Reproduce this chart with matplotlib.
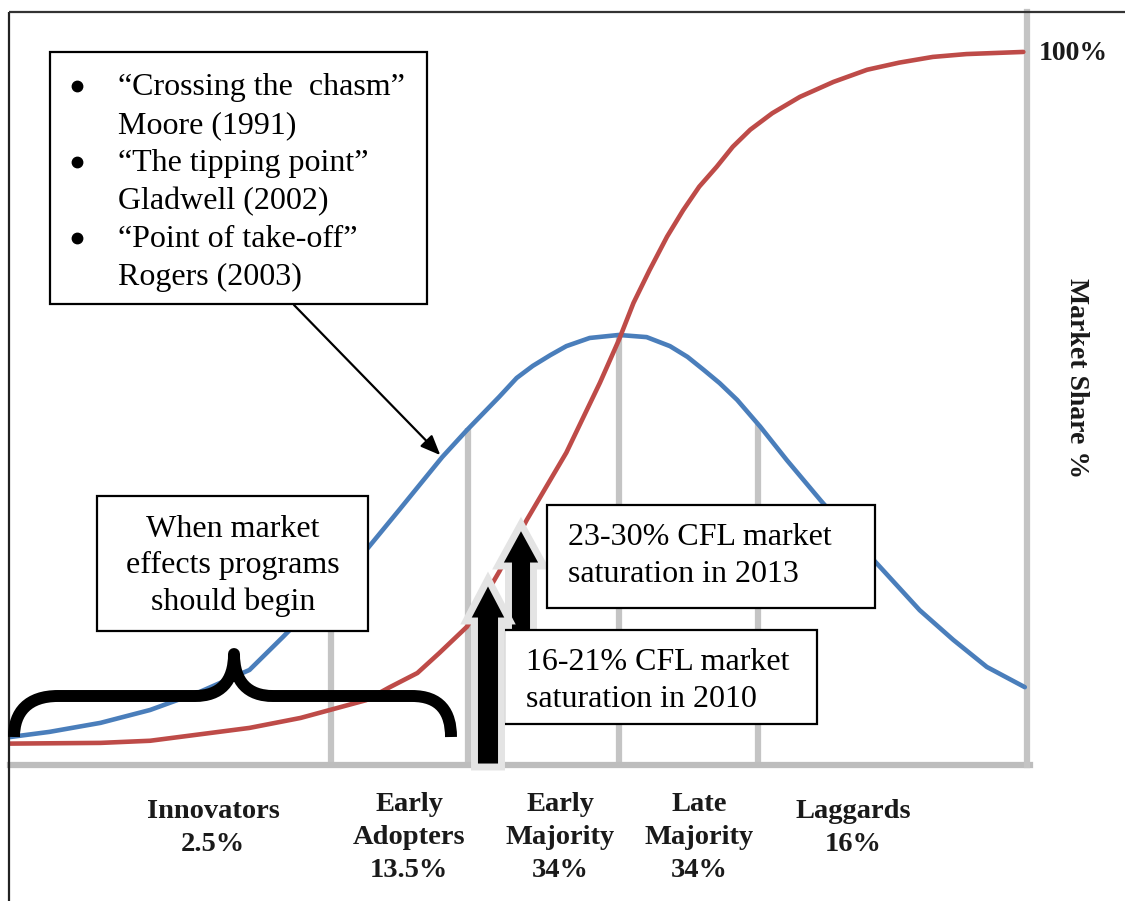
import matplotlib
matplotlib.use('Agg')
import matplotlib.pyplot as plt
from matplotlib.patches import Polygon, Rectangle, PathPatch
from matplotlib.path import Path
import numpy as np


# Curves. x is in standard deviations from the mean
# (peak of the bell curve).
blue_x = [-4.17, -3.90, -3.55, -3.21, -2.87, -2.53, -2.30, -1.97, -1.73, -1.50,
          -1.21, -1.04, -0.82, -0.70, -0.59, -0.47, -0.36, -0.20, 0.0, 0.19,
          0.35, 0.47, 0.58, 0.69, 0.81, 0.97, 1.15, 1.38, 1.60, 1.79,
          2.06, 2.29, 2.52, 2.78]
# adoption rate, relative to the peak
blue_y = [0.065, 0.077, 0.098, 0.128, 0.170, 0.221, 0.298, 0.412, 0.500, 0.595,
          0.716, 0.779, 0.856, 0.900, 0.928, 0.953, 0.974, 0.993, 1.0, 0.995,
          0.974, 0.949, 0.919, 0.888, 0.849, 0.786, 0.709, 0.616, 0.530, 0.460,
          0.360, 0.291, 0.228, 0.181]

red_x = [-4.17, -3.55, -3.21, -2.87, -2.53, -2.18, -1.73, -1.57, -1.38, -1.23,
         -1.04, -0.82, -0.63, -0.36, -0.13, 0.0, 0.10, 0.21, 0.33, 0.44,
         0.55, 0.67, 0.78, 0.90, 1.05, 1.24, 1.47, 1.70, 1.92, 2.15,
         2.38, 2.77]
# cumulative market share %
red_y = [3.0, 3.1, 3.4, 4.3, 5.2, 6.6, 9.1, 10.9, 12.9, 15.7,
         19.4, 27.1, 34.4, 43.8, 53.6, 59.6, 64.8, 69.4, 74.1, 77.8,
         81.1, 83.9, 86.7, 89.1, 91.4, 93.7, 95.8, 97.5, 98.5, 99.3,
         99.7, 100.0]

# segment boundaries (grey dividers), standard deviations
divider_x = [-1.97, -1.03, 0.0, 0.95]

segment_names = ['Innovators', 'Early\nAdopters', 'Early\nMajority', 'Late\nMajority', 'Laggards']
segment_shares = [2.5, 13.5, 34, 34, 16]

theories = ['\u201cCrossing the  chasm\u201d', 'Moore (1991)',
            '\u201cThe tipping point\u201d', 'Gladwell (2002)',
            '\u201cPoint of take-off\u201d', 'Rogers (2003)']

BLUE = '#4a7ebb'
RED = '#be4b48'
GREY = '#c4c4c4'
SERIF = 'Liberation Serif'


def text_lines(ax, x, y0, lines, step, **kw):
    """Put each line separately so the baselines land where they should."""
    for i, line in enumerate(lines):
        ax.text(x, y0 + i * step, line, va='baseline', **kw)


def box(ax, x0, y0, x1, y1):
    ax.add_patch(Rectangle((x0, y0), x1 - x0, y1 - y0, facecolor='white',
                           edgecolor='black', lw=1.6, zorder=5))


def block_arrow(ax, cx, tip, base, bottom, shaft_hw, head_hw, z):
    pts = [(cx - shaft_hw, bottom), (cx - shaft_hw, base), (cx - head_hw, base),
           (cx, tip), (cx + head_hw, base), (cx + shaft_hw, base),
           (cx + shaft_hw, bottom)]
    ax.add_patch(Polygon(pts, closed=True, facecolor='black',
                         edgecolor='#e4e4e4', lw=5, joinstyle='miter', zorder=z))


fig = plt.figure(figsize=(11.25, 9.01), dpi=100)

# chart area: x from 10px to 1027px, y from 765px (bottom) to 12px (top)
ax = fig.add_axes([10 / 1125, 1 - 765 / 901, 1017 / 1125, 753 / 901])
ax.set_xlim(-4.17, 2.795)
ax.set_ylim(0, 1.751)
ax.set_axis_off()
ax.set_zorder(1)

tops = np.interp(divider_x, blue_x, blue_y)
ax.vlines(divider_x, 0, tops, color=GREY, lw=4.5, zorder=1)
ax.axhline(0, xmin=0, xmax=1.003, color='#bdbdbd', lw=4.5, clip_on=False, zorder=1)
ax.axvline(2.795, color=GREY, lw=4.5, clip_on=False, zorder=1)
ax.plot(blue_x, blue_y, color=BLUE, lw=3.3, solid_capstyle='round',
        solid_joinstyle='round', zorder=3)

ax2 = ax.twinx()
ax2.set_ylim(0, 105.6)
ax2.set_axis_off()
ax2.set_zorder(2)
ax2.plot(red_x, red_y, color=RED, lw=3.3, solid_capstyle='round',
         solid_joinstyle='round', zorder=3)

# overlay in pixel units for frame, boxes, arrows and labels
ov = fig.add_axes([0, 0, 1, 1])
ov.set_xlim(0, 1125)
ov.set_ylim(901, 0)
ov.set_axis_off()
ov.set_zorder(3)
ov.patch.set_visible(False)

ov.plot([9, 9], [901, 12], color='#222222', lw=1.6, solid_capstyle='butt')
ov.plot([9, 1125], [12, 12], color='#333333', lw=1.6, solid_capstyle='butt')

# theory box with pointer to the tipping point on the bell curve
box(ov, 50, 52, 427, 304)
text_lines(ov, 118, 95, theories, 38, fontsize=23, family=SERIF, zorder=6)
for i in (0, 2, 4):
    ov.plot(77, 86 + i * 38, 'o', color='black', ms=7.5, zorder=6)
tip_x = -1.21
ov.annotate('', xy=(tip_x, np.interp(tip_x, blue_x, blue_y)), xycoords=ax.transData,
            xytext=(294, 305), textcoords='data',
            arrowprops=dict(arrowstyle='-|>,head_length=0.6,head_width=0.25',
                            color='black', lw=1.6, mutation_scale=20,
                            shrinkA=0, shrinkB=2))

# brace under the early part of the curves
verts = [(14, 737), (14, 712), (28, 696), (58, 696), (195, 696),
         (220, 696), (234, 682), (234, 654),
         (234, 682), (248, 696), (273, 696), (412, 696),
         (440, 696), (451, 712), (451, 737)]
codes = [Path.MOVETO, Path.CURVE4, Path.CURVE4, Path.CURVE4, Path.LINETO,
         Path.CURVE4, Path.CURVE4, Path.CURVE4,
         Path.CURVE4, Path.CURVE4, Path.CURVE4, Path.LINETO,
         Path.CURVE4, Path.CURVE4, Path.CURVE4]
ov.add_patch(PathPatch(Path(verts, codes), fill=False, lw=8.6, edgecolor='black',
                       capstyle='butt', joinstyle='round', zorder=4))

box(ov, 97, 496, 368, 631)
text_lines(ov, 233, 537, ['When market', 'effects programs', 'should begin'], 36.5,
           fontsize=23, family=SERIF, ha='center', zorder=6)

# saturation arrows and boxes
block_arrow(ov, 521, 524, 566, 650, 12.5, 23, 4)
box(ov, 547, 505, 875, 608)
text_lines(ov, 568, 545, ['23-30% CFL market', 'saturation in 2013'], 37,
           fontsize=23, family=SERIF, zorder=6)
box(ov, 504, 630, 817, 724)
text_lines(ov, 526, 670, ['16-21% CFL market', 'saturation in 2010'], 37,
           fontsize=23, family=SERIF, zorder=6)
block_arrow(ov, 488, 579, 621, 767, 13.5, 22, 7)

# segment labels under the axis
label_px = [213, 409, 560, 699, 853]
for cx, name, share in zip(label_px, segment_names, segment_shares):
    lines = name.split('\n') + ['%g%%' % share]
    y0 = 818 if len(lines) == 2 else 811
    text_lines(ov, cx, y0, lines, 33, fontsize=20.5, family=SERIF,
               fontweight='bold', ha='center', color='#1a1a1a')

ov.text(1039, 60, '100%', fontsize=20, family=SERIF, fontweight='bold',
        va='baseline', color='#1a1a1a')
ov.text(1076, 378, 'Market Share %', fontsize=20, family=SERIF, fontweight='bold',
        rotation=270, ha='center', va='center', color='#1a1a1a')

fig.savefig('out.png', dpi=100)
